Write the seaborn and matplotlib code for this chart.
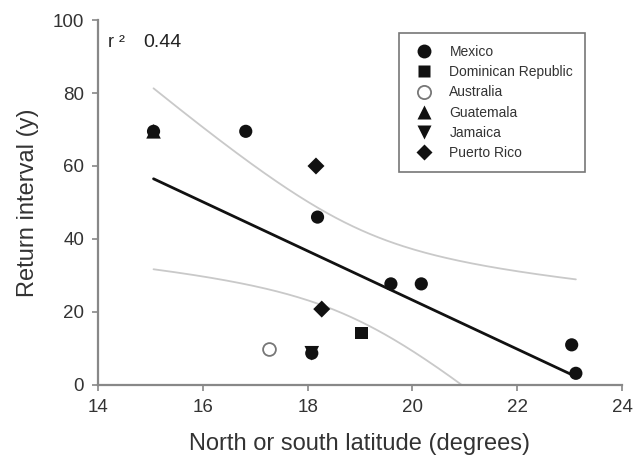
import numpy as np
import pandas as pd
import matplotlib
matplotlib.use("Agg")
import matplotlib.pyplot as plt
import seaborn as sns

# Data
latitude = [15.06, 16.82, 18.16, 18.19, 19.59, 20.17, 18.27, 19.03, 17.27, 18.08, 23.04, 23.12]
return_interval = [69.5, 69.5, 60.0, 46.0, 27.7, 27.7, 20.8, 14.2, 9.8, 8.7, 11.0, 3.2]
country = ["Guatemala", "Mexico", "Puerto Rico", "Mexico", "Mexico", "Mexico",
           "Puerto Rico", "Dominican Republic", "Australia", "Jamaica", "Mexico", "Mexico"]
# sites where a Mexico symbol sits under another country's symbol
also_mexico = [True, False, False, False, False, False, False, False, False, True, False, False]

countries = ["Mexico", "Dominican Republic", "Australia", "Guatemala", "Jamaica", "Puerto Rico"]
markers = {"Mexico": "o", "Dominican Republic": "s", "Australia": "o",
           "Guatemala": "^", "Jamaica": "v", "Puerto Rico": "D"}
sizes = {"Mexico": 90, "Dominican Republic": 80, "Australia": 85,
         "Guatemala": 110, "Jamaica": 110, "Puerto Rico": 75}
r2_label = "0.44"
x_ticks = [14, 16, 18, 20, 22, 24]
y_ticks = [0, 20, 40, 60, 80, 100]

df = pd.DataFrame({"lat": latitude, "ret": return_interval, "country": country,
                   "also_mexico": also_mexico})

sns.set_style("ticks")
plt.rcParams['font.family'] = ['Liberation Sans', 'DejaVu Sans']

fig = plt.figure(figsize=(6.33, 4.62), dpi=100)
ax = fig.add_axes([0.1548, 0.1667, 0.8278, 0.79])

# --- regression line and 95% confidence band ---
x = df["lat"].to_numpy()
y = df["ret"].to_numpy()
slope, intercept = np.polyfit(x, y, 1)
n = len(x)
resid = y - (slope * x + intercept)
s = np.sqrt(np.sum(resid ** 2) / (n - 2))
sxx = np.sum((x - x.mean()) ** 2)
t_val = 2.228  # t(0.975, df=10)
xs = np.linspace(x.min(), x.max(), 200)
fit = slope * xs + intercept
half = t_val * s * np.sqrt(1 / n + (xs - x.mean()) ** 2 / sxx)
band = pd.DataFrame({"lat": xs, "fit": fit, "lo": fit - half, "hi": fit + half})

sns.lineplot(data=band, x="lat", y="hi", color="#c9c9c9", lw=1.3, ax=ax)
sns.lineplot(data=band, x="lat", y="lo", color="#c9c9c9", lw=1.3, ax=ax)
sns.lineplot(data=band, x="lat", y="fit", color="#111111", lw=2.0, ax=ax)

# --- points ---
under = df[df["also_mexico"]]
sns.scatterplot(data=under, x="lat", y="ret", marker="o", s=sizes["Mexico"],
                color="#111111", edgecolor="none", ax=ax, zorder=3)
for c in countries:
    sub = df[df["country"] == c]
    if c == "Australia":
        sns.scatterplot(data=sub, x="lat", y="ret", marker="o", s=sizes[c],
                        facecolor="white", edgecolor="#777777", linewidth=1.3,
                        ax=ax, zorder=4, label=c)
    else:
        sns.scatterplot(data=sub, x="lat", y="ret", marker=markers[c], s=sizes[c],
                        color="#111111", edgecolor="none", ax=ax, zorder=4, label=c)

# legend: build handles in order so empty groups still show
handles = []
for c in countries:
    if c == "Australia":
        h = plt.Line2D([], [], ls="none", marker="o", markersize=9.5,
                       markerfacecolor="white", markeredgecolor="#777777", markeredgewidth=1.3)
    else:
        ms = {"o": 10, "s": 9, "^": 10.5, "v": 10.5, "D": 8.5}[markers[c]]
        h = plt.Line2D([], [], ls="none", marker=markers[c], markersize=ms,
                       markerfacecolor="#111111", markeredgecolor="none")
    handles.append(h)
leg = ax.legend(handles, countries, loc="upper left", bbox_to_anchor=(0.574, 0.964),
                borderaxespad=0, fontsize=10, frameon=True, fancybox=False,
                framealpha=1, edgecolor="#777777", borderpad=0.85,
                handlelength=2.0, handletextpad=0.8, labelspacing=0.45)
leg.get_frame().set_linewidth(1.2)
for t in leg.get_texts():
    t.set_color("#333333")

ax.text(0.019, 0.925, "r ²", transform=ax.transAxes, fontsize=13, color="#222222")
ax.text(0.086, 0.925, r2_label, transform=ax.transAxes, fontsize=14, color="#222222")

ax.set_xlim(14, 24)
ax.set_ylim(0, 100)
ax.set_xticks(x_ticks)
ax.set_yticks(y_ticks)
ax.set_xlabel("North or south latitude (degrees)", fontsize=17, color="#333333", labelpad=12)
ax.set_ylabel("Return interval (y)", fontsize=17, color="#333333", labelpad=10)
ax.tick_params(axis="both", labelsize=13.5, colors="#333333", length=4, width=1.2,
               color="#888888", pad=6)
sns.despine(ax=ax)
for sp in ["left", "bottom"]:
    ax.spines[sp].set_color("#888888")
    ax.spines[sp].set_linewidth(1.6)

fig.savefig("out.png", dpi=100)
